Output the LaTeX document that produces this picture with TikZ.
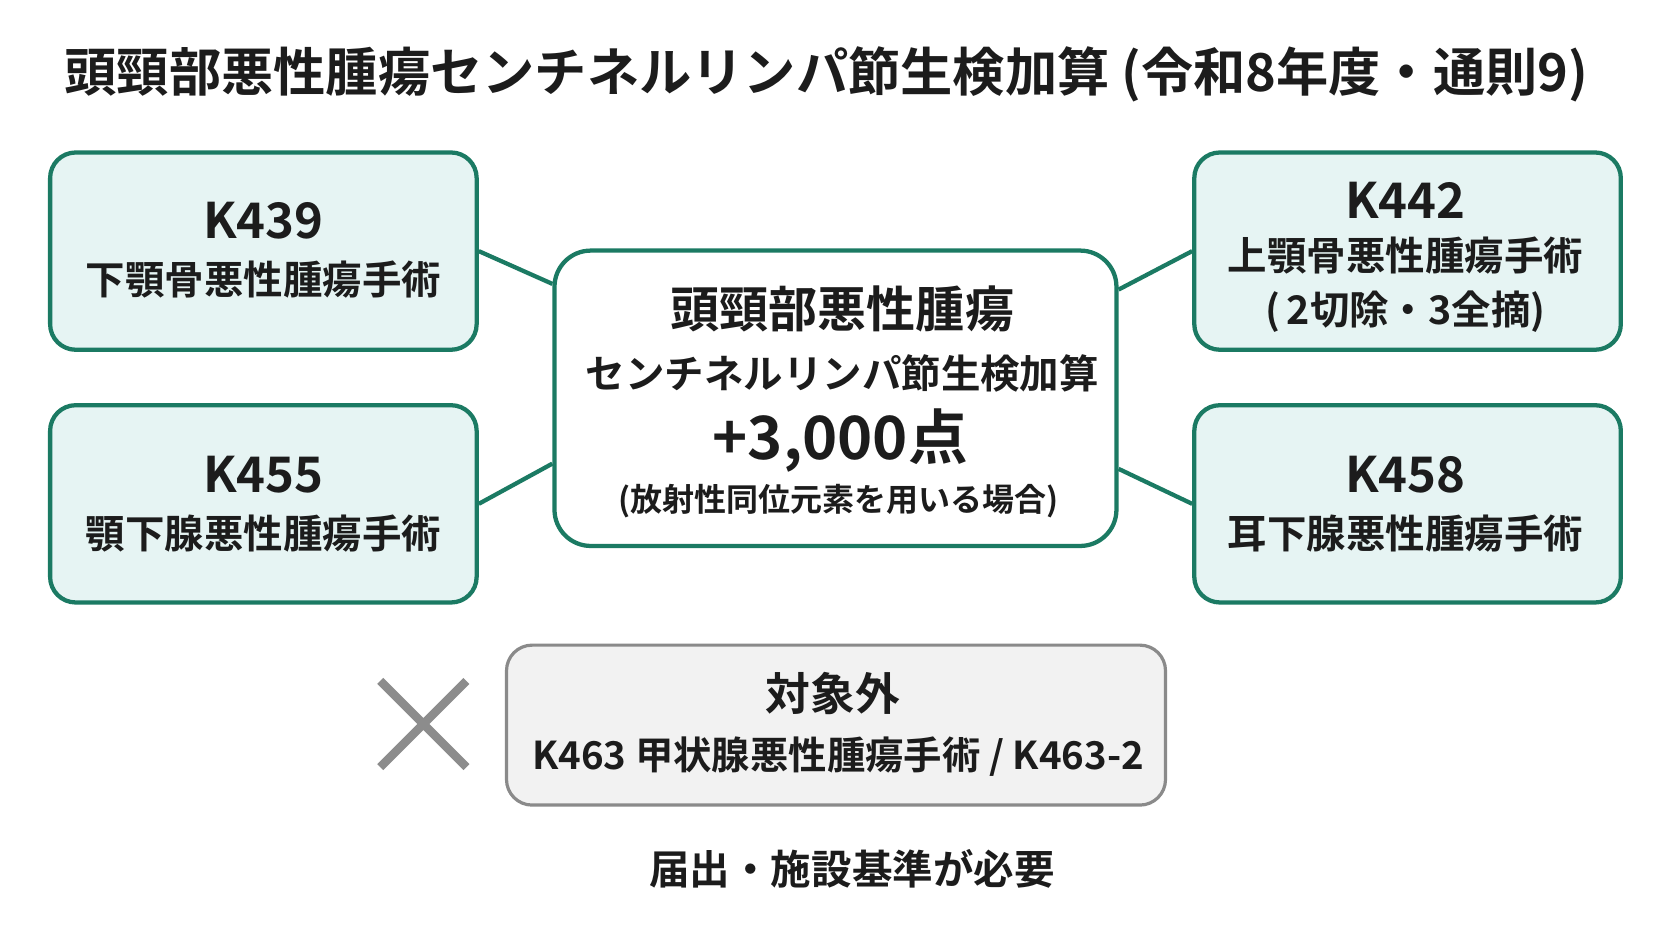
\documentclass[tikz,border=0pt]{standalone}
\usepackage{fontspec}
\setmainfont{Noto Sans CJK JP}[BoldFont=* Bold]
\usepackage{tikz}
\usetikzlibrary{
	positioning,									% 节点的高级摆放
}

\definecolor{tealgreen}{HTML}{1B7A63}
\definecolor{palecyan}{HTML}{E6F4F3}
\definecolor{boxgrey}{HTML}{8A8A8A}
\definecolor{palegrey}{HTML}{F2F2F2}
\definecolor{inkblack}{HTML}{1C1C1C}
\definecolor{crossgrey}{HTML}{8C8C8C}

\tikzset{
	sidebox/.style={draw=tealgreen, line width=2pt, fill=palecyan, rounded corners=12pt,
		minimum width=200pt, minimum height=92.5pt, inner sep=0pt},
	mainbox/.style={draw=tealgreen, line width=2pt, fill=white, rounded corners=17pt,
		minimum width=263.5pt, minimum height=138.5pt, inner sep=0pt},
	outbox/.style={draw=boxgrey, line width=1.5pt, fill=palegrey, rounded corners=12pt,
		minimum width=309pt, minimum height=75pt, inner sep=0pt},
	link/.style={draw=tealgreen, line width=2pt},
	crossline/.style={draw=crossgrey, line width=4pt},
	txt/.style={inner sep=0pt, text=inkblack},
	kcode/.style={txt, font=\bfseries\fontsize{23pt}{23pt}\selectfont},
	opname/.style={txt, font=\bfseries\fontsize{18.5pt}{18.5pt}\selectfont},
}

\begin{document}
\begin{tikzpicture}[x=0.5pt, y=-0.5pt]
	\fill[white] (0,0) rectangle (1568,882);
	\useasboundingbox (0,0) rectangle (1568,882);

	\node[txt, font=\bfseries\fontsize{24.5pt}{24.5pt}\selectfont] (title) at (775,70)
		{頭頸部悪性腫瘍センチネルリンパ節生検加算 (令和8年度・通則9)};

	\node[sidebox] (k439) at (247,235.5) {};
	\node[kcode] (k439code) at (247,207) {K439};
	\node[opname] (k439name) at (247,262) {下顎骨悪性腫瘍手術};

	\node[sidebox] (k455) at (247,472.5) {};
	\node[kcode] (k455code) at (247,445) {K455};
	\node[opname] (k455name) at (247,500) {顎下腺悪性腫瘍手術};

	\node[sidebox] (k442) at (1320,235.5) {};
	\node[kcode] (k442code) at (1318,188) {K442};
	\node[opname] (k442name) at (1318,240) {上顎骨悪性腫瘍手術};
	\node[opname] (k442note) at (1318,292) {(\,2切除・3全摘)};

	\node[sidebox] (k458) at (1320,472.5) {};
	\node[kcode] (k458code) at (1318,445) {K458};
	\node[opname] (k458name) at (1318,500) {耳下腺悪性腫瘍手術};

	\node[mainbox] (main) at (783.5,373.5) {};
	\node[txt, font=\bfseries\fontsize{23pt}{23pt}\selectfont] (mainhead) at (790,290) {頭頸部悪性腫瘍};
	\node[opname] (mainsub) at (790,350) {センチネルリンパ節生検加算};
	\node[txt, font=\bfseries\fontsize{28pt}{28pt}\selectfont] (points) at (788,413) {+3,000点};
	\node[txt, font=\bfseries\fontsize{15pt}{15pt}\selectfont] (pointsnote) at (786,470) {(放射性同位元素を用いる場合)};

	\draw[link] (k439.east) -- (main.158.6);
	\draw[link] (k455.east) -- (main.193.7);
	\draw[link] (k442.west) -- (main.21.4);
	\draw[link] (k458.west) -- (main.346.3);

	\node[outbox] (excluded) at (784,680) {};
	\node[txt, font=\bfseries\fontsize{21pt}{21pt}\selectfont] (exchead) at (781,650) {対象外};
	\node[txt, font=\bfseries\fontsize{18pt}{18pt}\selectfont] (excname) at (786,710) {K463 甲状腺悪性腫瘍手術 / K463-2};

	\node[minimum width=40pt, minimum height=40pt, inner sep=0pt] (cross) at (397,679) {};
	\draw[crossline] (cross.north west) -- (cross.south east)
		(cross.north east) -- (cross.south west);

	\node[txt, font=\bfseries\fontsize{19pt}{19pt}\selectfont] (notice) at (799,815) {届出・施設基準が必要};
\end{tikzpicture}
\end{document}
